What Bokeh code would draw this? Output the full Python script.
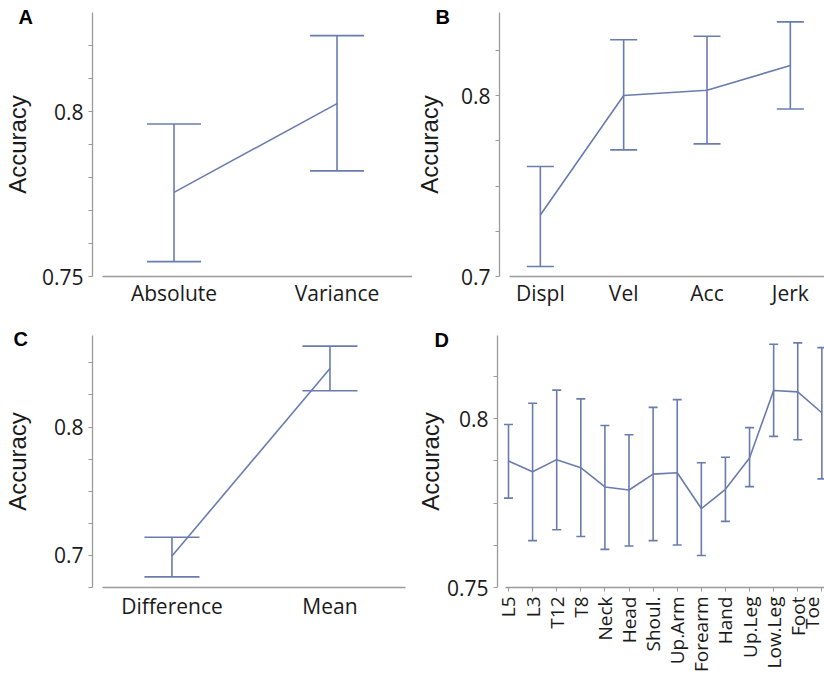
import math
from bokeh.plotting import figure
from bokeh.models import ColumnDataSource, Whisker, TeeHead, FixedTicker
from bokeh.layouts import column, row
from bokeh.embed import file_html
from bokeh.resources import INLINE

# ---------------- data ----------------
a_cats = ["Absolute", "Variance"]
a_mean = [0.7755, 0.8024]
a_low = [0.7545, 0.7820]
a_high = [0.7962, 0.8230]

b_cats = ["Displ", "Vel", "Acc", "Jerk"]
b_mean = [0.734, 0.800, 0.8029, 0.8166]
b_low = [0.7055, 0.770, 0.7733, 0.7926]
b_high = [0.7608, 0.8308, 0.8328, 0.8407]

c_cats = ["Difference", "Mean"]
c_mean = [0.6995, 0.8456]
c_low = [0.6833, 0.8283]
c_high = [0.7142, 0.8630]

d_cats = ["L5", "L3", "T12", "T8", "Neck", "Head", "Shoul.", "Up.Arm",
          "Forearm", "Hand", "Up.Leg", "Low.Leg", "Foot", "Toe"]
d_mean = [0.7875, 0.7843, 0.7879, 0.7855, 0.7798, 0.7789, 0.7836, 0.7840,
          0.7734, 0.7791, 0.7884, 0.8084, 0.8080, 0.8018]
d_low = [0.7765, 0.7639, 0.7671, 0.7651, 0.7613, 0.7623, 0.7639, 0.7626,
         0.7595, 0.7696, 0.7799, 0.7948, 0.7938, 0.7822]
d_high = [0.7983, 0.8046, 0.8085, 0.8059, 0.7980, 0.7953, 0.8034, 0.8057,
          0.7870, 0.7886, 0.7974, 0.8221, 0.8225, 0.8211]

a_yticks = [0.75, 0.8]
a_yminor = [0.76, 0.77, 0.78, 0.79, 0.81, 0.82]
b_yticks = [0.7, 0.8]
b_yminor = [0.725, 0.75, 0.775, 0.825]
c_yticks = [0.7, 0.8]
c_yminor = [0.675, 0.725, 0.75, 0.775, 0.825, 0.85]
d_yticks = [0.75, 0.8]
d_yminor = [0.7625, 0.775, 0.7875, 0.8125]

LINE = "#6a7cae"
AXIS = "#9a9a9a"
TICK_FONT = "Open Sans"
LABEL_FONT = "Liberation Sans"
LETTER_SIZE = 20


def panel(cats, mean, low, high, yticks, yminor, letter, *, width, height,
          left, right, top, bottom, xr, yr, xb, cap, standoff, ylab_standoff,
          letter_px, rotate=False, xticks=False, tick_size="21px",
          xlab_standoff=2):
    xs = list(range(len(cats)))
    src = ColumnDataSource(dict(x=xs, mean=mean, low=low, high=high))
    p = figure(width=width, height=height, x_range=xr, y_range=yr,
               output_backend="svg", toolbar_location=None,
               min_border_left=left, min_border_right=right,
               min_border_top=top, min_border_bottom=bottom)
    p.outline_line_color = None
    p.grid.visible = False
    p.background_fill_color = "white"
    p.border_fill_color = "white"

    p.line("x", "mean", source=src, line_color=LINE, line_width=1.6)
    w = Whisker(source=src, base="x", upper="high", lower="low",
                line_color=LINE, line_width=1.6,
                upper_head=TeeHead(size=cap, line_color=LINE, line_width=1.6),
                lower_head=TeeHead(size=cap, line_color=LINE, line_width=1.6))
    p.add_layout(w)

    ya = p.yaxis[0]
    ya.ticker = FixedTicker(ticks=yticks, minor_ticks=yminor)
    ya.axis_line_color = AXIS
    ya.axis_line_width = 1.3
    ya.major_tick_line_color = AXIS
    ya.minor_tick_line_color = AXIS
    ya.major_tick_out = 4
    ya.major_tick_in = 0
    ya.minor_tick_out = 4
    ya.minor_tick_in = 0
    ya.major_label_text_font = TICK_FONT
    ya.major_label_text_font_size = "21px"
    ya.major_label_text_color = "#1a1a1a"
    ya.major_label_standoff = ylab_standoff
    ya.axis_label = "Accuracy"
    ya.axis_label_text_font = LABEL_FONT
    ya.axis_label_text_font_size = "24px"
    ya.axis_label_text_font_style = "normal"
    ya.axis_label_text_color = "#1a1a1a"
    ya.axis_label_standoff = standoff

    xa = p.xaxis[0]
    xa.ticker = FixedTicker(ticks=xs, minor_ticks=[])
    xa.major_label_overrides = {i: c for i, c in enumerate(cats)}
    xa.bounds = xb
    xa.axis_line_color = AXIS
    xa.axis_line_width = 1.3
    xa.major_tick_line_color = AXIS if xticks else None
    xa.major_tick_out = 4 if xticks else 0
    xa.major_tick_in = 0
    xa.minor_tick_line_color = None
    xa.major_label_text_font = TICK_FONT
    xa.major_label_text_font_size = tick_size
    xa.major_label_text_color = "#1a1a1a"
    xa.major_label_standoff = xlab_standoff
    if rotate:
        xa.major_label_orientation = math.pi / 2

    # panel letter as the plot title, pulled to the top-left corner
    t = p.title
    t.text = letter
    t.text_font = LABEL_FONT
    t.text_font_size = f"{LETTER_SIZE}px"
    t.text_font_style = "bold"
    t.text_color = "black"
    t.align = "left"
    t.vertical_align = "bottom"
    t.offset = letter_px[0] - left - 1
    want_bottom = letter_px[1] + 0.21 * LETTER_SIZE + 12
    try:
        t.standoff = top - want_bottom
    except Exception:
        t.standoff = 0
    return p


pa = panel(a_cats, a_mean, a_low, a_high, a_yticks, a_yminor, "A",
           width=412, height=318, left=90, right=0, top=12, bottom=42,
           xr=(-0.5, 1.463), yr=(0.75, 0.83), xb=(-0.44, 1.463),
           cap=54, standoff=8, ylab_standoff=5, letter_px=(17, 26))
pb = panel(b_cats, b_mean, b_low, b_high, b_yticks, b_yminor, "B",
           width=412, height=318, left=87, right=0, top=12, bottom=42,
           xr=(-0.49, 3.41), yr=(0.7, 0.8459), xb=(-0.37, 3.41),
           cap=27, standoff=15, ylab_standoff=5, letter_px=(24, 26))
pc = panel(c_cats, c_mean, c_low, c_high, c_yticks, c_yminor, "C",
           width=412, height=358, left=90, right=7, top=17, bottom=87,
           xr=(-0.503, 1.478), yr=(0.675, 0.8713), xb=(-0.44, 1.478),
           cap=55, standoff=20, ylab_standoff=5, letter_px=(12, 30),
           xlab_standoff=4)
pd = panel(d_cats, d_mean, d_low, d_high, d_yticks, d_yminor, "D",
           width=412, height=358, left=85, right=0, top=15, bottom=89,
           xr=(-0.456, 13.11), yr=(0.75, 0.8247), xb=(-0.124, 13.11),
           cap=9, standoff=0, ylab_standoff=5, letter_px=(23, 30),
           rotate=True, xticks=True, tick_size="19px", xlab_standoff=5)

layout = column(row(pa, pb, spacing=0), row(pc, pd, spacing=0), spacing=0)
open("out.html", "w").write(file_html(layout, INLINE))
